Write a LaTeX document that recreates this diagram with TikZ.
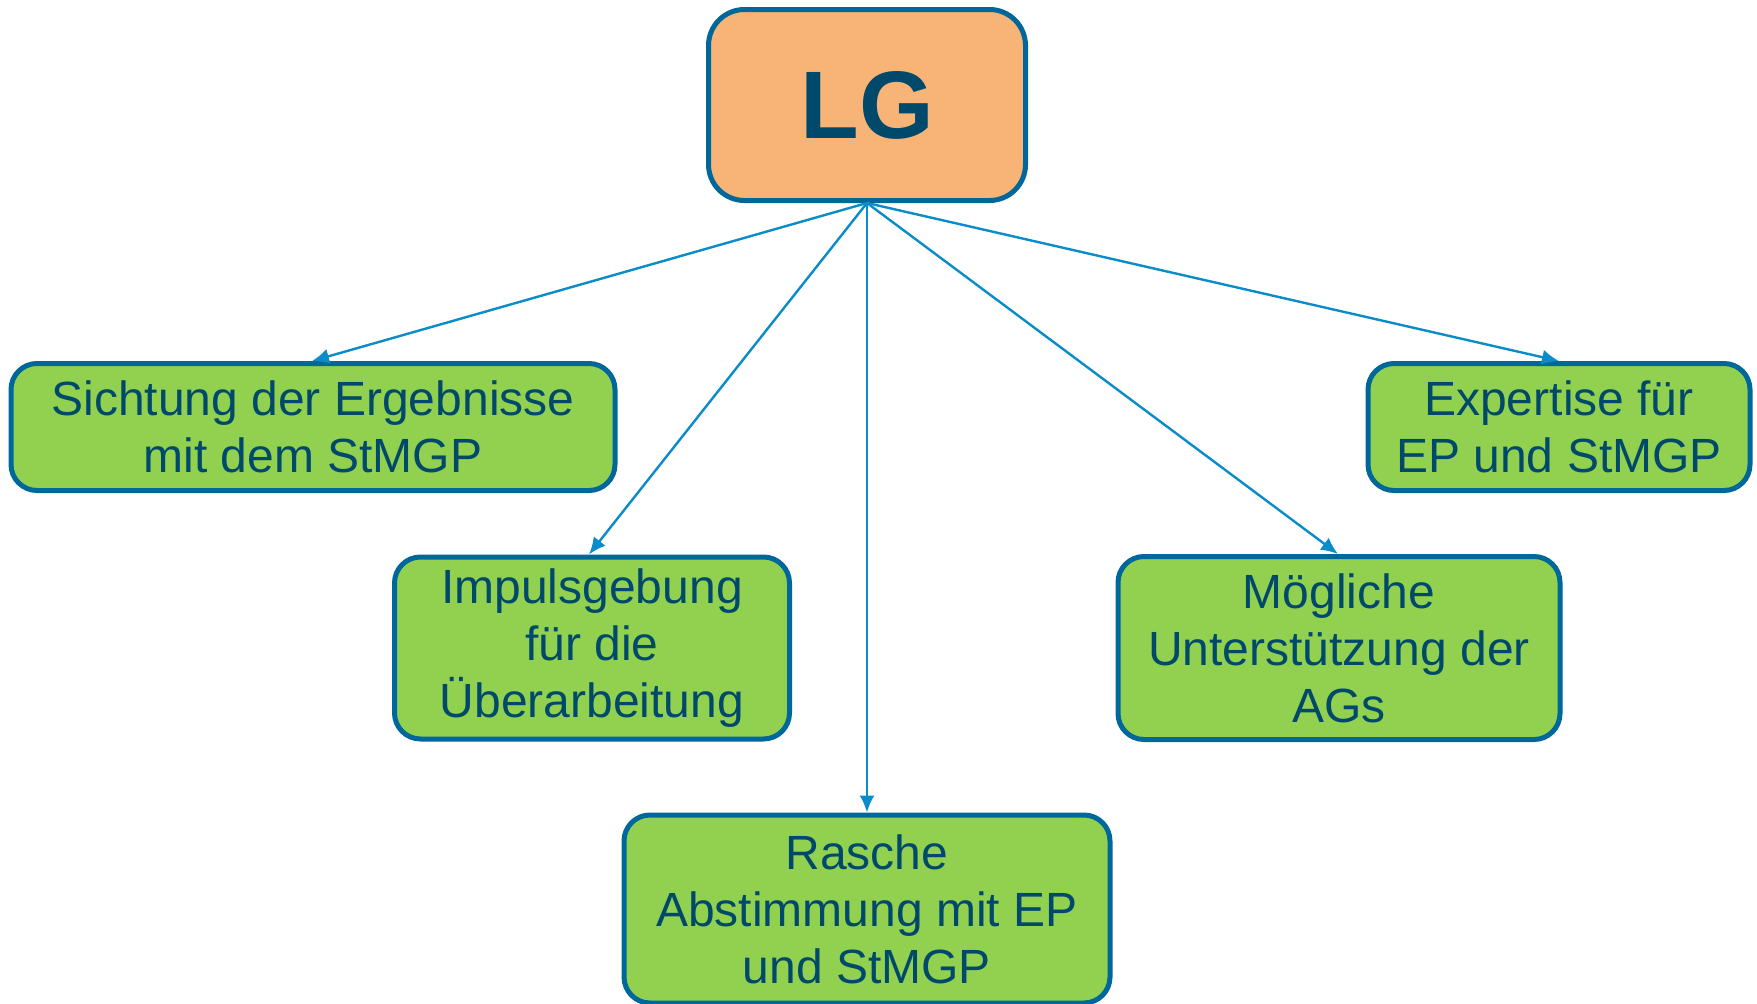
\documentclass[tikz,border=0pt]{standalone}
\usepackage{fontspec}
\setmainfont{Liberation Sans}
\usetikzlibrary{arrows.meta}
\definecolor{edgeblue}{HTML}{00679A}
\definecolor{textblue}{HTML}{00496B}
\definecolor{linkblue}{HTML}{0A8CCB}
\definecolor{orangefill}{HTML}{F8B377}
\definecolor{greenfill}{HTML}{92D050}
\tikzset{
  topbox/.style={draw=edgeblue, line width=5pt, fill=orangefill, rounded corners=36pt,
    text=textblue, font=\fontsize{96}{110}\selectfont\bfseries, inner sep=0pt},
  taskbox/.style={draw=edgeblue, line width=5pt, fill=greenfill, rounded corners=26pt,
    text=textblue, font=\fontsize{48}{57}\selectfont, align=center, inner sep=0pt},
  link/.style={draw=linkblue, line width=2.4pt, -{Latex[length=17pt,width=15pt]}}
}
\begin{document}
\begin{tikzpicture}[x=1pt,y=-1pt]
\useasboundingbox (0,0) rectangle (1757,1004);
\node[topbox, minimum width=317pt, minimum height=191pt] (lg) at (867,105) {LG};
\node[taskbox, minimum width=604pt, minimum height=127pt] (sicht) at (313,427)
  {Sichtung der Ergebnisse\\mit dem StMGP};
\node[taskbox, minimum width=395pt, minimum height=182pt] (impuls) at (592,648)
  {Impulsgebung\\für die\\Überarbeitung};
\node[taskbox, minimum width=486pt, minimum height=188pt] (rasch) at (867,909)
  {Rasche\\Abstimmung mit EP\\und StMGP};
\node[taskbox, minimum width=442pt, minimum height=183pt] (moegl) at (1339,648)
  {Mögliche\\Unterstützung der\\AGs};
\node[taskbox, minimum width=382pt, minimum height=127pt] (expert) at (1559,427)
  {Expertise für\\EP und StMGP};
\coordinate (src) at (lg.south);
\draw[link] (src) -- ([xshift=-1pt]sicht.north);
\draw[link] (src) -- ([xshift=-3pt]impuls.north);
\draw[link] (src) -- (rasch.north);
\draw[link] (src) -- ([xshift=-1pt]moegl.north);
\draw[link] (src) -- (expert.north);
\end{tikzpicture}
\end{document}
